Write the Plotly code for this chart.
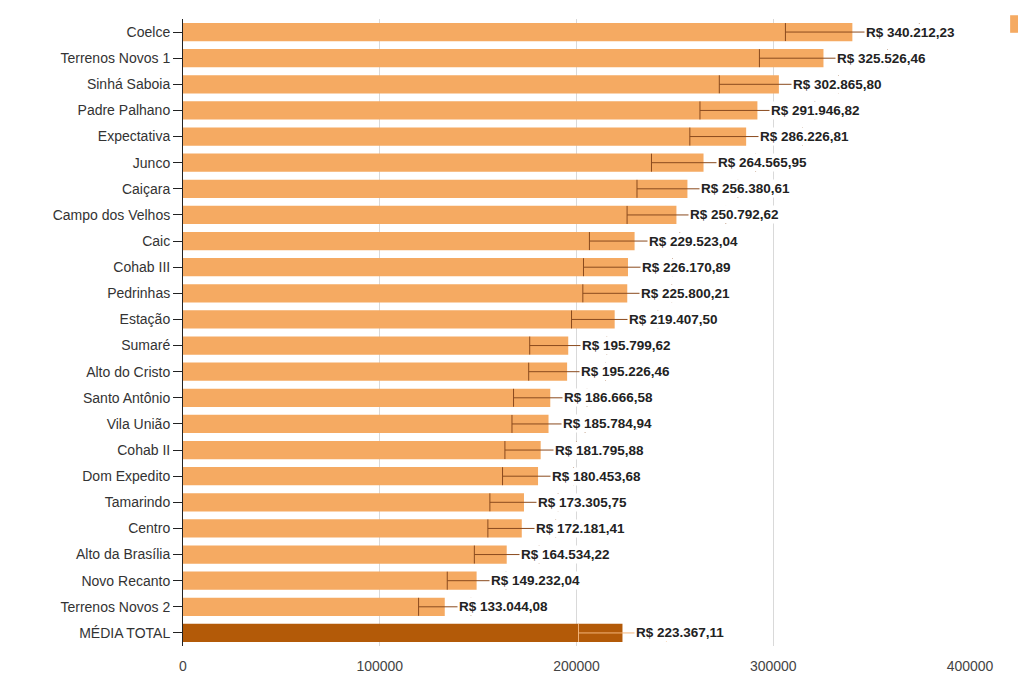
import plotly.graph_objects as go

bairros = ["Coelce", "Terrenos Novos 1", "Sinhá Saboia", "Padre Palhano", "Expectativa",
           "Junco", "Caiçara", "Campo dos Velhos", "Caic", "Cohab III", "Pedrinhas",
           "Estação", "Sumaré", "Alto do Cristo", "Santo Antônio", "Vila União",
           "Cohab II", "Dom Expedito", "Tamarindo", "Centro", "Alto da Brasília",
           "Novo Recanto", "Terrenos Novos 2"]
valores = [340212.23, 325526.46, 302865.80, 291946.82, 286226.81, 264565.95, 256380.61,
           250792.62, 229523.04, 226170.89, 225800.21, 219407.50, 195799.62, 195226.46,
           186666.58, 185784.94, 181795.88, 180453.68, 173305.75, 172181.41, 164534.22,
           149232.04, 133044.08]
media_label = "MÉDIA TOTAL"
media_valor = 223367.11
erro_pct = 10
x_ticks = [0, 100000, 200000, 300000, 400000]

LIGHT = "#F5AA62"
DARK = "#B35A08"


def brl(v):
    s = f"{v:,.2f}"
    s = s.replace(",", "X").replace(".", ",").replace("X", ".")
    return "R$ " + s


fig = go.Figure()
fig.add_trace(go.Bar(
    y=bairros, x=valores, orientation="h",
    marker=dict(color=LIGHT, line=dict(width=0)),
    error_x=dict(type="percent", value=erro_pct, color="#8A4A1E", thickness=1, width=9),
    showlegend=False, hoverinfo="x+y",
))
fig.add_trace(go.Bar(
    y=[media_label], x=[media_valor], orientation="h",
    marker=dict(color=DARK, line=dict(width=0)),
    error_x=dict(type="percent", value=erro_pct, color="#F2B47A", thickness=1, width=9),
    showlegend=False, hoverinfo="x+y",
))

for cat, v in list(zip(bairros, valores)) + [(media_label, media_valor)]:
    fig.add_annotation(
        x=v, y=cat, xref="x", yref="y", text="<b>" + brl(v) + "</b>",
        showarrow=False, xanchor="left", xshift=12, bgcolor="white", borderpad=1,
        font=dict(family="Arial, Liberation Sans, sans-serif", size=13.5, color="#222222"),
    )

fig.add_shape(type="rect", xref="paper", yref="paper",
              x0=1.051, x1=1.09, y0=0.978, y1=1.006,
              fillcolor=LIGHT, line=dict(width=0), layer="above")

fig.update_layout(
    width=1018, height=668,
    margin=dict(l=175, r=56, t=11, b=30, autoexpand=False),
    paper_bgcolor="white", plot_bgcolor="white",
    barmode="overlay", bargap=0.3,
    font=dict(family="Arial, Liberation Sans, sans-serif", size=14, color="#333333"),
    xaxis=dict(range=[0, 400000], tickvals=x_ticks, ticktext=[str(t) for t in x_ticks],
               showgrid=True, gridcolor="#D9D9D9", gridwidth=1, zeroline=False,
               showline=False, ticks="", ticklabelstandoff=10, automargin=False,
               tickfont=dict(size=14, color="#444444")),
    yaxis=dict(autorange="reversed", showline=True, linecolor="#222222", linewidth=1,
               ticks="outside", ticklen=9, tickcolor="#222222", showgrid=False,
               automargin=False, tickfont=dict(size=14, color="#333333")),
)

fig.write_html("out.html")
